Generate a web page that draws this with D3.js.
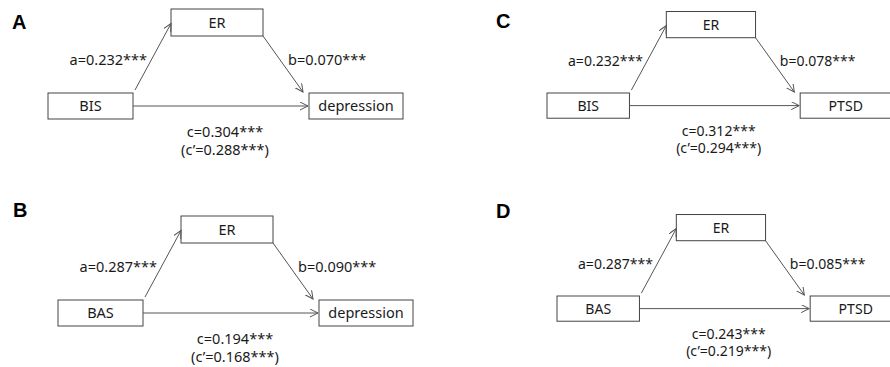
<!doctype html>
<html>
<head>
<meta charset="UTF-8">
<title>Mediation models</title>
<script src="https://d3js.org/d3.v7.min.js"></script>
<style>
body { margin: 0; background: #fff; }
svg text { font-family: "Noto Sans", "Liberation Sans", Arial, sans-serif; fill: #1a1a1a; }
.box { fill: #fff; stroke: #444; stroke-width: 1; }
.arrow { stroke: #555; stroke-width: 1; fill: none; }
</style>
</head>
<body>
<script>
// path coefficients per panel
var panels = ["A", "B", "C", "D"];
var predictors = ["BIS", "BAS", "BIS", "BAS"];
var mediators = ["ER", "ER", "ER", "ER"];
var outcomes = ["depression", "depression", "PTSD", "PTSD"];
var aPath = ["0.232", "0.287", "0.232", "0.287"];
var bPath = ["0.070", "0.090", "0.078", "0.085"];
var cPath = ["0.304", "0.194", "0.312", "0.243"];
var cPrime = ["0.288", "0.168", "0.294", "0.219"];
var sig = "***";

// where each panel sits (predictor box corner, scale, letter)
var layout = [
    {ox: 48, oy: 93, s: 1, lx: 12, ly: 29},
    {ox: 58, oy: 300, s: 1, lx: 13, ly: 217},
    {ox: 547, oy: 93, s: 0.97, lx: 496, ly: 28},
    {ox: 557, oy: 296, s: 0.97, lx: 496, ly: 218}
];

var width = 890, height = 367;

var svg = d3.select("body").append("svg")
    .attr("width", width)
    .attr("height", height);

svg.append("defs").append("marker")
    .attr("id", "head")
    .attr("markerUnits", "userSpaceOnUse")
    .attr("markerWidth", 10).attr("markerHeight", 10)
    .attr("refX", 8).attr("refY", 4)
    .attr("orient", "auto")
    .append("path")
    .attr("d", "M0,0L8,4L0,8")
    .attr("fill", "none")
    .attr("stroke", "#555")
    .attr("stroke-width", 1);

// box geometry in diagram units
var pred = {x: 0, y: 0, w: 85, h: 26};
var med = {x: 123, y: -84, w: 92, h: 27};
var out = {x: 261, y: 0, w: 94, h: 26};

panels.forEach(function(p, i) {
    var L = layout[i];
    var x = d3.scaleLinear().domain([0, 100]).range([L.ox, L.ox + 100 * L.s]);
    var y = d3.scaleLinear().domain([0, 100]).range([L.oy, L.oy + 100 * L.s]);
    var fs = 14.5 * L.s;
    var g = svg.append("g");

    g.append("text")
        .attr("x", L.lx).attr("y", L.ly)
        .style("font-family", "'Liberation Sans', Arial, sans-serif")
        .style("font-size", "20px")
        .style("font-weight", "bold")
        .style("fill", "#000")
        .text(p);

    var boxes = [[pred, predictors[i]], [med, mediators[i]], [out, outcomes[i]]];
    boxes.forEach(function(b) {
        var r = b[0];
        g.append("rect").attr("class", "box")
            .attr("x", x(r.x)).attr("y", y(r.y))
            .attr("width", x(r.x + r.w) - x(r.x))
            .attr("height", y(r.y + r.h) - y(r.y));
        g.append("text")
            .attr("x", x(r.x + r.w / 2))
            .attr("y", y(r.y + r.h / 2) + fs * 0.36)
            .attr("text-anchor", "middle")
            .style("font-size", fs + "px")
            .text(b[1]);
    });

    // arrows a, b, c
    var lines = [
        [pred.w + 2, -3, med.x, med.y + med.h / 2 + 1],
        [med.x + med.w, med.y + med.h, out.x - 6, -1],
        [pred.w, pred.h / 2, out.x - 1, pred.h / 2]
    ];
    lines.forEach(function(l) {
        g.append("line").attr("class", "arrow")
            .attr("x1", x(l[0])).attr("y1", y(l[1]))
            .attr("x2", x(l[2])).attr("y2", y(l[3]))
            .attr("marker-end", "url(#head)");
    });

    g.append("text")
        .attr("x", x(pred.w + 14)).attr("y", y(-28))
        .attr("text-anchor", "end")
        .style("font-size", fs + "px")
        .text("a=" + aPath[i] + sig);

    g.append("text")
        .attr("x", x(med.x + med.w + 25)).attr("y", y(-28))
        .style("font-size", fs + "px")
        .text("b=" + bPath[i] + sig);

    var cx = x((pred.w + out.x) / 2 + 4);
    g.append("text")
        .attr("x", cx).attr("y", y(44))
        .attr("text-anchor", "middle")
        .style("font-size", fs + "px")
        .text("c=" + cPath[i] + sig);
    g.append("text")
        .attr("x", cx).attr("y", y(62))
        .attr("text-anchor", "middle")
        .style("font-size", fs + "px")
        .text("(c\u2019=" + cPrime[i] + sig + ")");
});
</script>
</body>
</html>
